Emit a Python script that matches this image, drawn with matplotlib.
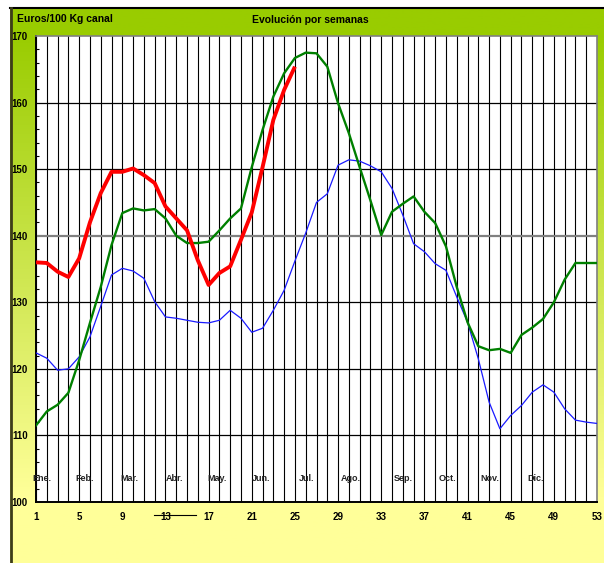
import numpy as np
import matplotlib
matplotlib.use("Agg")
import matplotlib.pyplot as plt
from matplotlib.colors import LinearSegmentedColormap

plt.rcParams['font.family'] = ['Liberation Sans', 'DejaVu Sans']

# Euros/100 Kg canal, por semana
weeks = np.arange(1, 54)

red_weeks = np.arange(1, 26)
red = [136.0, 135.9, 134.6, 133.8, 136.6, 142.0, 146.4, 149.6, 149.6, 150.1,
       149.1, 147.9, 144.4, 142.6, 140.8, 136.3, 132.6, 134.4, 135.4, 139.4,
       143.5, 150.3, 157.4, 161.9, 165.4]

green = [111.5, 113.6, 114.6, 116.4, 121.3, 126.9, 132.3, 138.6, 143.4, 144.1,
         143.8, 144.0, 142.6, 140.0, 138.9, 138.9, 139.1, 140.8, 142.6, 144.1,
         150.3, 155.9, 160.9, 164.4, 166.7, 167.5, 167.4, 165.4, 159.9, 155.4,
         150.3, 145.3, 140.1, 143.6, 144.8, 145.9, 143.6, 141.9, 138.4, 132.3,
         127.0, 123.4, 122.8, 123.0, 122.4, 125.1, 126.2, 127.5, 130.0, 133.4,
         135.9, 135.9, 135.9]

blue = [122.4, 121.6, 119.8, 120.0, 121.8, 124.8, 129.4, 134.1, 135.1, 134.7,
        133.6, 130.1, 127.8, 127.6, 127.3, 127.0, 126.9, 127.3, 128.8, 127.6,
        125.5, 126.1, 128.8, 131.8, 136.2, 140.4, 145.0, 146.3, 150.6, 151.4,
        151.2, 150.5, 149.6, 147.1, 143.1, 138.8, 137.6, 135.8, 134.8, 130.8,
        127.0, 121.5, 115.0, 111.0, 113.0, 114.5, 116.5, 117.6, 116.5, 114.0,
        112.3, 112.0, 111.8]

months = ['Ene.', 'Feb.', 'Mar.', 'Abr.', 'May.', 'Jun.', 'Jul.', 'Ago.',
          'Sep.', 'Oct.', 'Nov.', 'Dic.']
month_pos = [1.55, 5.5, 9.7, 13.8, 17.8, 21.9, 26.1, 30.2, 35.0, 39.1, 43.1, 47.3]

W, H = 604, 563
fig = plt.figure(figsize=(W / 100, H / 100), dpi=100)

# gradient frame behind the chart
bg = fig.add_axes([10 / W, 0, 1 - 10 / W, 1 - 8 / H])
bg.set_axis_off()
grad = np.linspace(0, 1, 256).reshape(-1, 1)
cmap = LinearSegmentedColormap.from_list(
    'g', [(0, '#99cc00'), (0.045, '#99cc00'), (0.88, '#ffff99'), (1, '#ffff99')])
bg.imshow(grad, aspect='auto', cmap=cmap, extent=[0, 1, 0, 1], origin='upper')
bg.set_xlim(0, 1)
bg.set_ylim(0, 1)
fig.add_artist(plt.Line2D([10 / W, 1], [1 - 8 / H, 1 - 8 / H], color='black', lw=1.5))
fig.add_artist(plt.Line2D([11 / W, 11 / W], [0, 1 - 8 / H], color='#3d3d1a', lw=2))

ax = fig.add_axes([36 / W, (H - 502) / H, (597 - 36) / W, (502 - 36) / H])
ax.set_facecolor('white')
ax.set_xlim(1, 53)
ax.set_ylim(100, 170)

for w in weeks:
    ax.axvline(w, color='black', lw=0.8, zorder=1)
for v in range(110, 170, 10):
    if v == 140:
        ax.axhline(v, color='#808080', lw=1.6, zorder=1)
    else:
        ax.axhline(v, color='black', lw=0.9, zorder=1)

ax.plot(weeks, blue, color='#1a1aff', lw=0.9, zorder=3)
ax.plot(weeks, green, color='#008000', lw=1.7, zorder=4, solid_joinstyle='round')
ax.plot(red_weeks, red, color='#ff0000', lw=2.8, zorder=5, solid_joinstyle='round',
        solid_capstyle='butt')

for m, p in zip(months, month_pos):
    ax.text(p, 103.6, m, ha='center', va='center', fontsize=6.5, fontweight='bold',
            color='#222222', zorder=6)

ax.set_xticks(range(1, 54, 4))
ax.set_yticks(range(100, 171, 10))
ax.set_yticks(range(100, 171, 2), minor=True)
ax.tick_params(axis='x', length=0, pad=7, labelsize=7)
ax.tick_params(axis='y', which='major', length=0, pad=6, labelsize=7)
ax.tick_params(axis='y', which='minor', direction='in', length=2.5, width=0.8)
for lab in ax.get_xticklabels() + ax.get_yticklabels():
    lab.set_fontweight('bold')
for s in ['top', 'right']:
    ax.spines[s].set_color('#808080')
    ax.spines[s].set_linewidth(1.2)
for s in ['left', 'bottom']:
    ax.spines[s].set_color('black')
    ax.spines[s].set_linewidth(1.4)

# stray line across the "13" label
ax.plot([11.9, 15.8], [-0.028, -0.028], color='black', lw=0.8,
        transform=ax.get_xaxis_transform(), clip_on=False)

fig.text(17 / W, 1 - 19 / H, 'Euros/100 Kg canal', fontsize=7.5, fontweight='bold',
         va='center', ha='left')
fig.text(310 / W, 1 - 20 / H, 'Evolución por semanas', fontsize=7.5, fontweight='bold',
         va='center', ha='center')

fig.savefig('out.png', dpi=100)
